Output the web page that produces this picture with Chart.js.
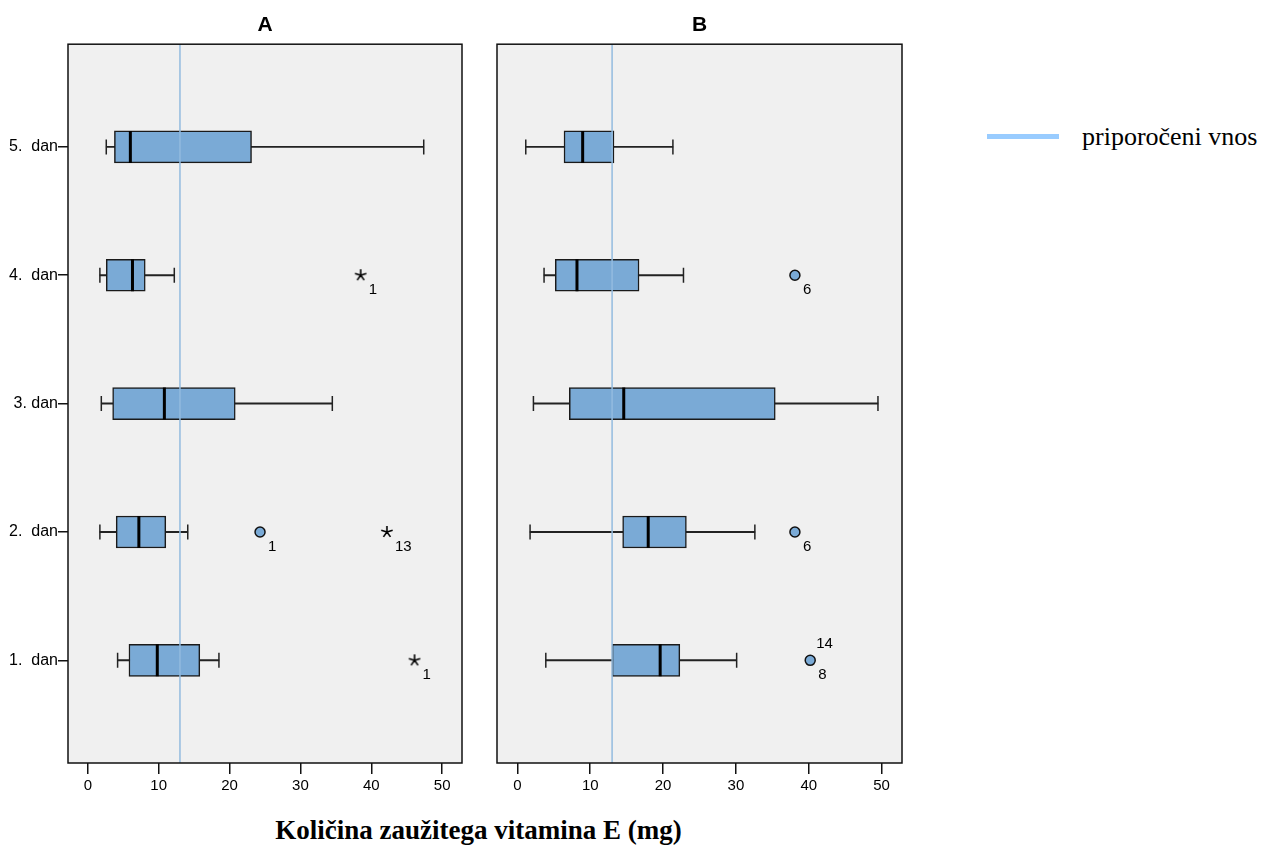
<!DOCTYPE html>
<html>
<head>
<meta charset="utf-8">
<title>Vitamin E</title>
<script src="https://cdn.jsdelivr.net/npm/chart.js@4.4.0/dist/chart.umd.min.js"></script>
<style>
  body { margin: 0; background: #fff; width: 1265px; height: 845px; overflow: hidden; position: relative; }
  canvas { position: absolute; top: 0; }
  #chartA { left: 0; }
  #chartB { left: 490px; }
  #legend { position: absolute; left: 987px; top: 122px; font-family: "Liberation Serif", "Times New Roman", serif; font-size: 26px; color: #000; white-space: nowrap; }
  #legend .swatch { display: inline-block; width: 72px; height: 5px; background: #99ccff; vertical-align: middle; margin-right: 23px; position: relative; top: -3px; }
  #xtitle { position: absolute; left: 0; width: 957px; top: 815px; text-align: center; font-family: "Liberation Serif", "Times New Roman", serif; font-weight: bold; font-size: 27px; color: #000; white-space: nowrap; }
</style>
</head>
<body>
<canvas id="chartA" width="470" height="800"></canvas>
<canvas id="chartB" width="420" height="800"></canvas>
<div id="legend"><span class="swatch"></span>priporočeni vnos</div>
<div id="xtitle">Količina zaužitega vitamina E (mg)</div>

<script>
// data
const days = ['1.  dan', '2.  dan', '3. dan', '4.  dan', '5.  dan'];
const rows = [1, 2, 3, 4, 5];
const xTicks = [0, 10, 20, 30, 40, 50];
const recommended = 13;

// panel A
const loA  = [4.2, 1.7, 1.9, 1.7, 2.6];
const q1A  = [5.8, 4.0, 3.5, 2.6, 3.75];
const medA = [9.8, 7.2, 10.8, 6.3, 6.0];
const q3A  = [15.8, 11.0, 20.8, 8.1, 23.1];
const hiA  = [18.5, 14.1, 34.5, 12.2, 47.4];
const outDayA = [2];
const outValA = [24.3];
const outLabA = ['1'];
const extDayA = [1, 2, 4];
const extValA = [46.1, 42.2, 38.5];
const extLabA = ['1', '13', '1'];

// panel B
const loB  = [3.9, 1.74, 2.2, 3.66, 1.15];
const q1B  = [13.0, 14.45, 7.13, 5.2, 6.4];
const medB = [19.6, 17.96, 14.6, 8.18, 8.96];
const q3B  = [22.3, 23.2, 35.4, 16.7, 13.26];
const hiB  = [30.1, 32.6, 49.5, 22.8, 21.35];
const outDayB = [1, 2, 4];
const outValB = [40.2, 38.1, 38.1];
const outLabB = [['14', '8'], '6', '6'];
const extDayB = [];
const extValB = [];
const extLabB = [];

const boxBlue = '#7aaad6';
const sans = '"Liberation Sans", Arial, sans-serif';

// five-armed asterisk used for extreme values
function makeStar() {
    const c = document.createElement('canvas');
    c.width = 14; c.height = 14;
    const g = c.getContext('2d');
    g.strokeStyle = '#000';
    g.lineWidth = 1.6;
    g.beginPath();
    for (let k = 0; k < 5; k++) {
        const a = -Math.PI / 2 + k * 2 * Math.PI / 5;
        g.moveTo(7, 7);
        g.lineTo(7 + Math.cos(a) * 6, 7 + Math.sin(a) * 6);
    }
    g.stroke();
    return c;
}
const starImg = makeStar();

// grey plot area + black frame
const framePlugin = {
    id: 'frame',
    beforeDatasetsDraw(chart) {
        const { ctx, chartArea: a } = chart;
        ctx.save();
        ctx.fillStyle = '#f0f0f0';
        ctx.fillRect(a.left, a.top, a.right - a.left, a.bottom - a.top);
        ctx.restore();
    },
    afterDatasetsDraw(chart) {
        const { ctx, chartArea: a } = chart;
        ctx.save();
        ctx.strokeStyle = '#111';
        ctx.lineWidth = 1.5;
        ctx.strokeRect(a.left, a.top, a.right - a.left, a.bottom - a.top);
        ctx.restore();
    }
};

// case numbers next to outliers
const labelPlugin = {
    id: 'caseLabels',
    afterDatasetsDraw(chart) {
        const ctx = chart.ctx;
        ctx.save();
        ctx.font = '15px ' + sans;
        ctx.fillStyle = '#000';
        ctx.textAlign = 'left';
        ctx.textBaseline = 'middle';
        chart.data.datasets.forEach((ds, i) => {
            if (!ds.caseLabels) return;
            chart.getDatasetMeta(i).data.forEach((pt, j) => {
                const lab = ds.caseLabels[j];
                if (Array.isArray(lab)) {
                    ctx.fillText(lab[0], pt.x + 6, pt.y - 16);
                    ctx.fillText(lab[1], pt.x + 8, pt.y + 15);
                } else {
                    ctx.fillText(lab, pt.x + 8, pt.y + 15);
                }
            });
        });
        ctx.restore();
    }
};

function makePanel(id, title, lo, q1, med, q3, hi, outDay, outVal, outLab, extDay, extVal, extLab, showY, yWidth, padRight) {
    const datasets = [
        {
            type: 'bar', indexAxis: 'y', grouped: false, order: 5,
            data: rows.map((r, i) => ({ y: r, x: [lo[i], hi[i]] })),
            backgroundColor: '#222', barThickness: 1.3, borderWidth: 0
        },
        {
            type: 'bar', indexAxis: 'y', grouped: false, order: 4,
            data: rows.map((r, i) => ({ y: r, x: [q1[i], q3[i]] })),
            backgroundColor: boxBlue, borderColor: '#1a1a1a', borderWidth: 1.5,
            borderSkipped: false, barThickness: 32
        },
        {
            type: 'scatter', order: 3,
            data: rows.map((r, i) => ({ x: lo[i], y: r })).concat(rows.map((r, i) => ({ x: hi[i], y: r }))),
            pointStyle: 'line', pointRotation: 90, pointRadius: 7.5,
            pointBorderColor: '#222', pointBorderWidth: 1.5, borderColor: '#222'
        },
        {
            type: 'scatter', order: 3,
            data: rows.map((r, i) => ({ x: med[i], y: r })),
            pointStyle: 'line', pointRotation: 90, pointRadius: 16,
            pointBorderColor: '#000', pointBorderWidth: 3, borderColor: '#000'
        },
        {
            type: 'scatter', order: 2, showLine: true,
            data: [{ x: recommended, y: 0.2 }, { x: recommended, y: 5.8 }],
            borderColor: '#93bbdf', borderWidth: 1.5, pointRadius: 0
        },
        {
            type: 'scatter', order: 1,
            data: outDay.map((d, i) => ({ x: outVal[i], y: d })),
            caseLabels: outLab,
            pointStyle: 'circle', pointRadius: 5,
            pointBackgroundColor: boxBlue, pointBorderColor: '#111', pointBorderWidth: 1.5
        },
        {
            type: 'scatter', order: 1,
            data: extDay.map((d, i) => ({ x: extVal[i], y: d })),
            caseLabels: extLab,
            pointStyle: starImg, pointRadius: 6
        }
    ];

    return new Chart(document.getElementById(id), {
        type: 'bar',
        data: { datasets: datasets },
        options: {
            responsive: false,
            animation: false,
            events: [],
            layout: { autoPadding: false, padding: { left: 0, right: padRight, top: 0, bottom: 0 } },
            plugins: {
                legend: { display: false },
                tooltip: { enabled: false },
                title: {
                    display: true, text: title, fullSize: false, color: '#000',
                    font: { family: sans, size: 21, weight: 'bold' },
                    padding: { top: 13, bottom: 6 }
                }
            },
            scales: {
                x: {
                    type: 'linear', min: -2.8, max: 52.8, offset: false,
                    afterBuildTicks: s => { s.ticks = xTicks.map(v => ({ value: v })); },
                    afterFit: s => { s.height = 37; s.paddingLeft = 0; s.paddingRight = 0; },
                    border: { display: false },
                    grid: { offset: false, drawOnChartArea: false, drawTicks: true, tickLength: 11, color: '#111', lineWidth: 1.5 },
                    ticks: { color: '#000', padding: 3, maxRotation: 0, font: { family: sans, size: 15 } }
                },
                y: {
                    type: 'linear', min: 0.2, max: 5.8, offset: false,
                    afterBuildTicks: s => { s.ticks = rows.map(v => ({ value: v })); },
                    afterFit: s => { s.width = yWidth; s.paddingTop = 0; s.paddingBottom = 0; },
                    border: { display: false },
                    grid: { offset: false, display: showY, drawOnChartArea: false, drawTicks: true, tickLength: 10, color: '#111', lineWidth: 1.5 },
                    ticks: {
                        display: showY, color: '#000', padding: 0,
                        font: { family: sans, size: 16 },
                        callback: v => days[v - 1]
                    }
                }
            }
        },
        plugins: [framePlugin, labelPlugin]
    });
}

makePanel('chartA', 'A', loA, q1A, medA, q3A, hiA, outDayA, outValA, outLabA, extDayA, extValA, extLabA, true, 68, 8);
makePanel('chartB', 'B', loB, q1B, medB, q3B, hiB, outDayB, outValB, outLabB, extDayB, extValB, extLabB, false, 7, 8);
</script>
</body>
</html>
